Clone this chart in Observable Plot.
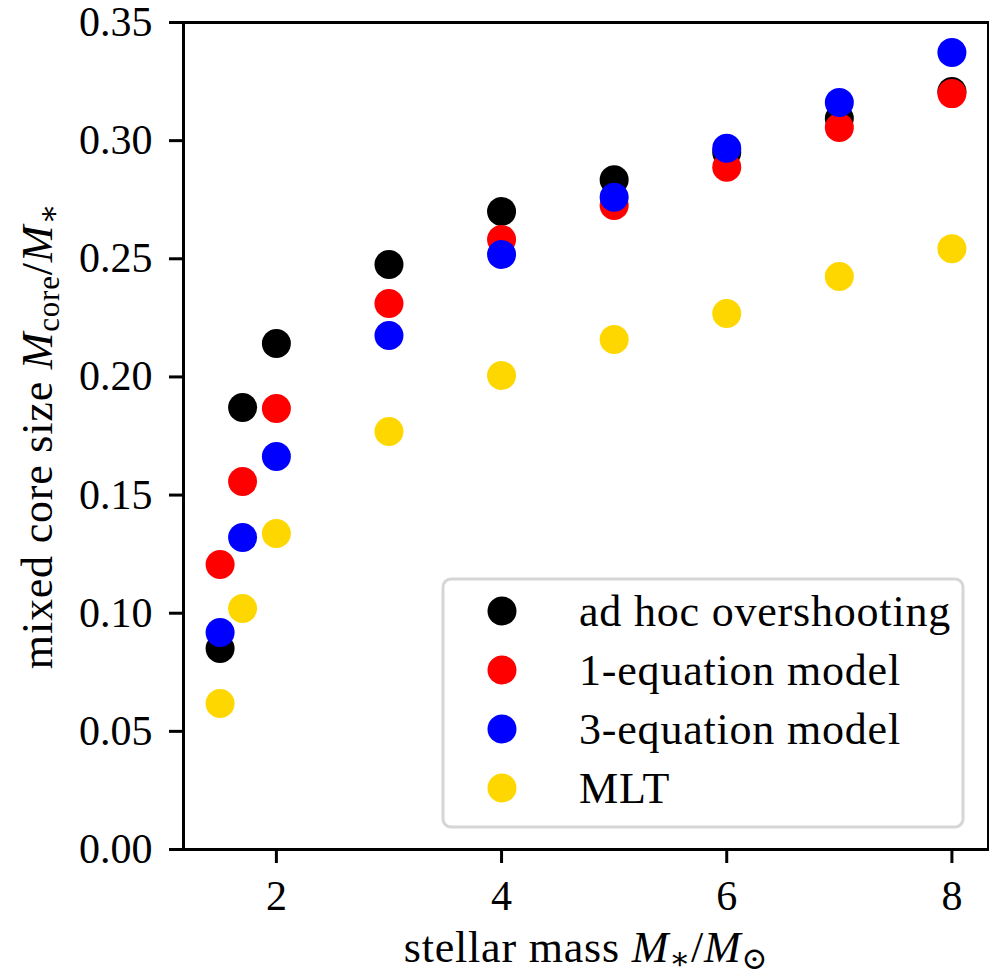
<!DOCTYPE html>
<html>
<head>
<meta charset="utf-8">
<script src="https://cdn.jsdelivr.net/npm/d3@7"></script>
<script src="https://cdn.jsdelivr.net/npm/@observablehq/plot@0.6"></script>
<style>
  html, body { margin: 0; padding: 0; background: #fff; }
  #chart { width: 989px; height: 976px; }
</style>
</head>
<body>
<div id="chart"></div>
<script>
// ---- data ----
const masses = [1.5, 1.7, 2, 3, 4, 5, 6, 7, 8];
const adHoc   = [0.0851, 0.1871, 0.2141, 0.2476, 0.2700, 0.2835, 0.2950, 0.3094, 0.3208];
const oneEq   = [0.1206, 0.1557, 0.1866, 0.2311, 0.2582, 0.2726, 0.2887, 0.3056, 0.3199];
const threeEq = [0.0918, 0.1320, 0.1663, 0.2175, 0.2518, 0.2760, 0.2968, 0.3161, 0.3373];
const mlt     = [0.0618, 0.1020, 0.1337, 0.1769, 0.2006, 0.2158, 0.2268, 0.2425, 0.2543];
const seriesNames  = ["ad hoc overshooting", "1-equation model", "3-equation model", "MLT"];
const seriesColors = ["#000000", "#ff0000", "#0000ff", "#ffd700"];
const xTicks = [2, 4, 6, 8];
const yTicks = [0, 0.05, 0.10, 0.15, 0.20, 0.25, 0.30, 0.35];

const seriesValues = [adHoc, oneEq, threeEq, mlt];
const rows = [];
seriesNames.forEach((name, i) => {
  masses.forEach((m, j) => rows.push({series: name, mass: m, value: seriesValues[i][j]}));
});

const FONT = "'Liberation Serif', 'DejaVu Serif', serif";

const chart = Plot.plot({
  width: 989,
  height: 976,
  marginLeft: 183,
  marginRight: 1,
  marginTop: 22,
  marginBottom: 127,
  style: {fontFamily: FONT, fontSize: "42px", background: "white", color: "black"},
  x: {domain: [1.175, 8.325]},
  y: {domain: [0, 0.35]},
  color: {domain: seriesNames, range: seriesColors},
  marks: [
    Plot.dot(rows, {x: "mass", y: "value", fill: "series", r: 14.5, stroke: "none"}),
    Plot.frame({stroke: "black", strokeWidth: 3}),
    Plot.axisX({ticks: xTicks, tickFormat: d3.format("d"), tickSize: 14, tickPadding: 17, strokeWidth: 3, label: null}),
    Plot.axisY({ticks: yTicks, tickFormat: d3.format(".2f"), tickSize: 14, tickPadding: 17, strokeWidth: 3, label: null})
  ]
});
document.getElementById("chart").appendChild(chart);

const svg = d3.select(chart);
const LS = "0.8px";

// y-axis label
const yl = svg.append("text")
  .attr("transform", "translate(52,436) rotate(-90)")
  .attr("text-anchor", "middle")
  .attr("font-family", FONT)
  .attr("font-size", 44)
  .attr("letter-spacing", LS)
  .attr("fill", "black");
yl.append("tspan").text("mixed core size ");
yl.append("tspan").attr("font-style", "italic").text("M");
yl.append("tspan").attr("font-size", 31).attr("dy", 7).text("core");
yl.append("tspan").attr("dy", -7).text("/");
yl.append("tspan").attr("font-style", "italic").text("M");
yl.append("tspan").attr("font-size", 31).attr("dy", 7).text("∗");

// x-axis label
const xl = svg.append("text")
  .attr("x", 586)
  .attr("y", 962)
  .attr("text-anchor", "middle")
  .attr("font-family", FONT)
  .attr("font-size", 44)
  .attr("letter-spacing", LS)
  .attr("fill", "black");
xl.append("tspan").text("stellar mass ");
xl.append("tspan").attr("font-style", "italic").text("M");
xl.append("tspan").attr("font-size", 31).attr("dy", 7).text("∗");
xl.append("tspan").attr("dy", -7).text("/");
xl.append("tspan").attr("font-style", "italic").text("M");
xl.append("tspan").attr("font-size", 31).attr("dy", 7).text("⊙");

// legend
const lg = svg.append("g");
lg.append("rect")
  .attr("x", 443).attr("y", 579).attr("width", 520).attr("height", 248)
  .attr("rx", 8).attr("fill", "white").attr("fill-opacity", 0.8)
  .attr("stroke", "#d6d6d6").attr("stroke-width", 3);
seriesNames.forEach((name, i) => {
  const cy = 611 + i * 59;
  lg.append("circle").attr("cx", 502).attr("cy", cy).attr("r", 14.5).attr("fill", seriesColors[i]);
  lg.append("text").attr("x", 579).attr("y", cy + 15)
    .attr("text-anchor", "start")
    .attr("font-family", FONT).attr("font-size", 44)
    .attr("letter-spacing", LS).attr("fill", "black")
    .text(name);
});
</script>
</body>
</html>
